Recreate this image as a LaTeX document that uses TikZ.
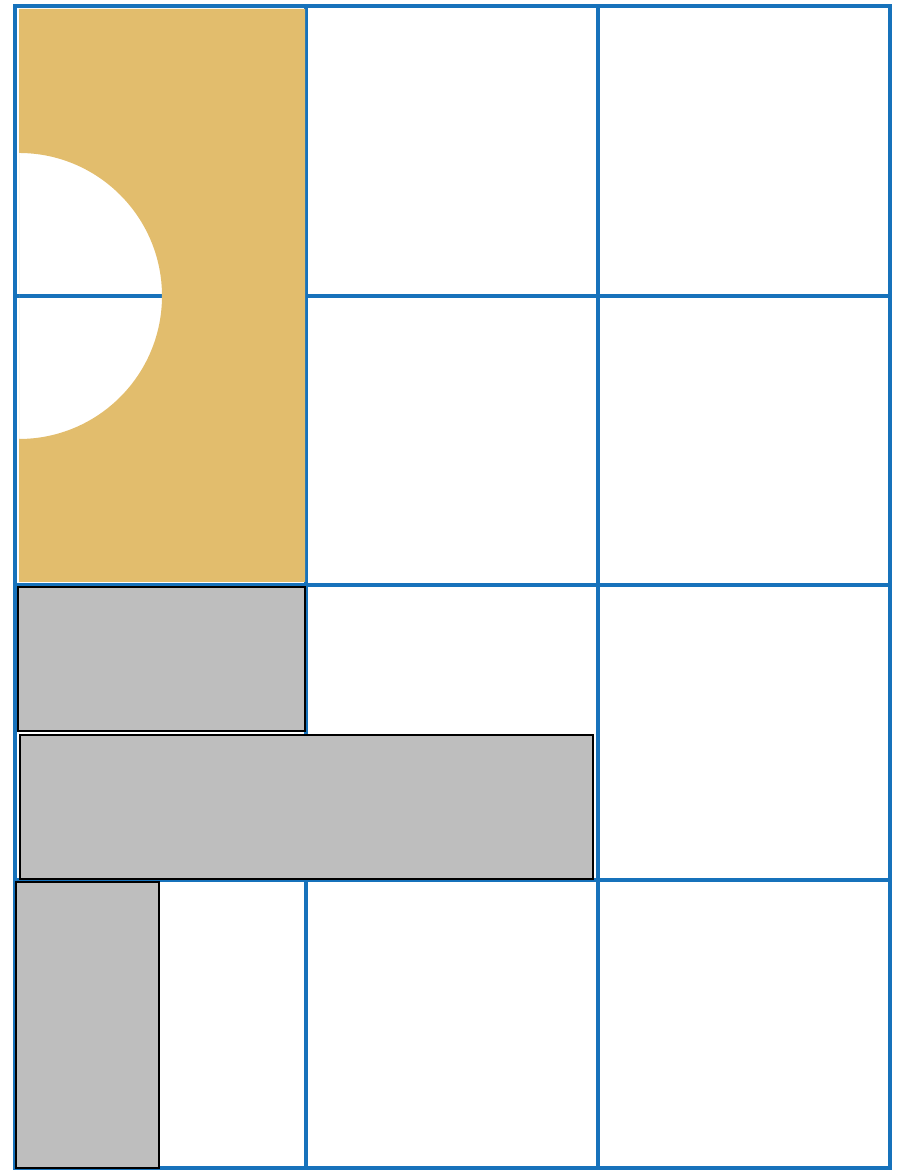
\documentclass[tikz,border=0pt]{standalone}
\usepackage{tkz-euclide}
\definecolor{GridClr}{RGB}{23,114,187}
\definecolor{TanClr}{RGB}{226,189,109}
\definecolor{BoxClr}{RGB}{190,190,190}
\begin{document}
\begin{tikzpicture}
\useasboundingbox (0,0) rectangle (9.04,11.70);

\tkzDefPoints{0.15/11.64/T1,3.06/11.64/T2,5.98/11.64/T3,8.90/11.64/T4}
\tkzDefPoints{0.15/0.02/B1,3.06/0.02/B2,5.98/0.02/B3,8.90/0.02/B4}
\tkzDefPoints{0.15/8.74/L2,0.15/5.85/L3,0.15/2.90/L4}
\tkzDefPoints{8.90/8.74/R2,8.90/5.85/R3,8.90/2.90/R4}

% grid
\tkzDrawSegments[color=GridClr,line width=1.2pt,line cap=rect](T1,B1 T2,B2 T3,B3 T4,B4)
\tkzDrawSegments[color=GridClr,line width=1.2pt,line cap=rect](T1,T4 L2,R2 L3,R3 L4,R4 B1,B4)

% tan block with the half disc cut out
\fill[TanClr,even odd rule] (0.19,11.61) rectangle (3.05,5.88)
  (0.19,10.17) arc (90:-90:1.43) -- cycle;

% grey boxes
\filldraw[fill=BoxClr,draw=black,line width=0.6pt] (0.18,5.83) rectangle (3.05,4.39);
\filldraw[fill=BoxClr,draw=black,line width=0.6pt] (0.20,4.35) rectangle (5.93,2.91);
\filldraw[fill=BoxClr,draw=black,line width=0.6pt] (0.16,2.88) rectangle (1.59,0.02);

\end{tikzpicture}
\end{document}
